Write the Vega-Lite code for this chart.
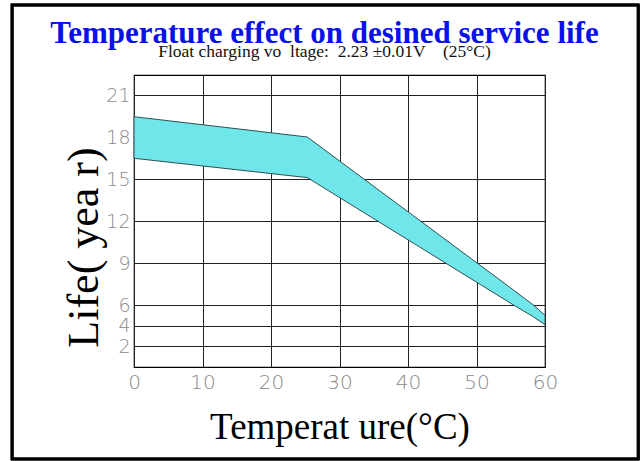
{
  "$schema": "https://vega.github.io/schema/vega-lite/v6.json",
  "width": 411,
  "height": 292,
  "autosize": "none",
  "padding": {"left": 134, "top": 75, "right": 96, "bottom": 94},
  "background": "white",
  "title": {
    "text": "Temperature effect on desined service life",
    "subtitle": "Float charging vo\u00a0\u00a0ltage:\u00a0\u00a02.23 ±0.01V\u00a0\u00a0\u00a0\u00a0(25°C)",
    "anchor": "middle",
    "frame": "group",
    "dx": -15,
    "offset": -58,
    "font": "Liberation Serif",
    "fontSize": 31,
    "fontWeight": "bold",
    "color": "#0a10e8",
    "subtitleFont": "Liberation Serif",
    "subtitleFontSize": 17.5,
    "subtitleColor": "#111111",
    "subtitlePadding": -7
  },
  "data": {
    "values": [
      {"t": 0, "lo": 16.48, "hi": 19.45},
      {"t": 25.3, "lo": 15.1, "hi": 18.0},
      {"t": 55.4, "lo": 6.0, "hi": 7.07},
      {"t": 58.3, "lo": 4.86, "hi": 6.0},
      {"t": 60, "lo": 4.1, "hi": 5.0}
    ]
  },
  "layer": [
    {
      "mark": {"type": "area", "color": "#6fe6ea", "stroke": "#2c4f52", "strokeWidth": 1, "opacity": 1},
      "encoding": {
        "x": {
          "field": "t",
          "type": "quantitative",
          "scale": {"domain": [0, 60], "nice": false, "zero": false},
          "axis": {
            "values": [0, 10, 20, 30, 40, 50, 60],
            "title": "Temperat ure(°C)",
            "titleFont": "Liberation Serif",
            "titleFontSize": 37,
            "titleFontWeight": "normal",
            "titleColor": "#000000",
            "titleBaseline": "alphabetic",
            "titleY": 71,
            "grid": true,
            "gridColor": "#222222",
            "gridWidth": 1,
            "gridOpacity": 1,
            "ticks": false,
            "domain": false,
            "labelFont": "DejaVu Sans",
            "labelFontWeight": 200,
            "labelFontSize": 20,
            "labelColor": "#8a8a8a",
            "labelPadding": 5,
            "labelFlush": false
          }
        },
        "y": {
          "field": "lo",
          "type": "quantitative",
          "scale": {"domain": [0, 6, 22.43], "range": [292, 230, 0], "nice": false, "zero": false},
          "axis": {
            "values": [2, 4, 6, 9, 12, 15, 18, 21],
            "title": "Life( yea r)",
            "titleFont": "Liberation Serif",
            "titleFontSize": 44,
            "titleFontWeight": "normal",
            "titleColor": "#000000",
            "titleBaseline": "alphabetic",
            "titleAngle": -90,
            "titleX": -37,
            "titleY": 172,
            "titleAlign": "center",
            "grid": true,
            "gridColor": {"condition": {"test": "datum.value === 18", "value": "transparent"}, "value": "#222222"},
            "gridWidth": 1,
            "gridOpacity": 1,
            "ticks": false,
            "domain": false,
            "labelFont": "DejaVu Sans",
            "labelFontWeight": 200,
            "labelFontSize": 19,
            "labelColor": "#8a8a8a",
            "labelPadding": 4,
            "labelFlush": false
          }
        },
        "y2": {"field": "hi"}
      }
    },
    {
      "mark": {"type": "rect", "fill": null, "filled": false, "stroke": "#000000", "strokeWidth": 2.5},
      "encoding": {
        "x": {"datum": -17.8},
        "x2": {"datum": 73.6},
        "y": {"datum": 27.43},
        "y2": {"datum": -8.9}
      }
    }
  ],
  "config": {
    "view": {"stroke": "#000000", "strokeWidth": 1.2}
  }
}
